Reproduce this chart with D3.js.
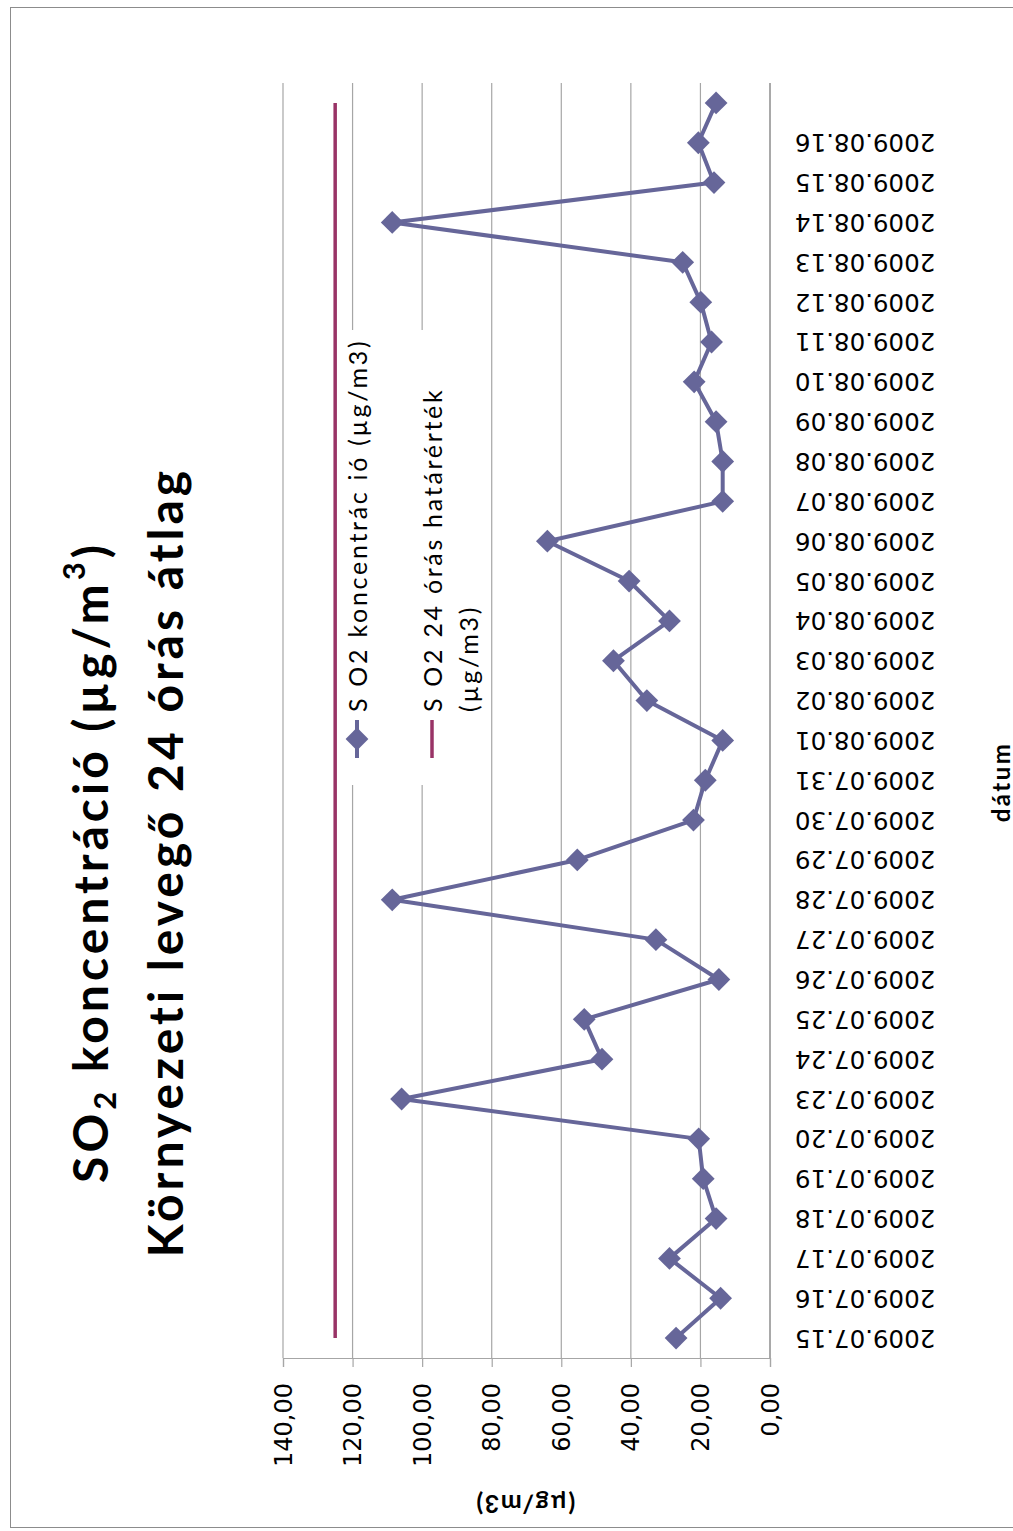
<!DOCTYPE html>
<html>
<head>
<meta charset="utf-8">
<script src="https://cdn.jsdelivr.net/npm/d3@7"></script>
<style>
  html, body { margin: 0; padding: 0; background: #fff; }
  svg { display: block; }
</style>
</head>
<body>
<svg id="chart" width="1013" height="1531"></svg>
<script>
// Daily dates of the measurement series (the last sample has no date label)
const dates = [
  "2009.07.15","2009.07.16","2009.07.17","2009.07.18","2009.07.19","2009.07.20",
  "2009.07.23","2009.07.24","2009.07.25","2009.07.26","2009.07.27","2009.07.28",
  "2009.07.29","2009.07.30","2009.07.31","2009.08.01","2009.08.02","2009.08.03",
  "2009.08.04","2009.08.05","2009.08.06","2009.08.07","2009.08.08","2009.08.09",
  "2009.08.10","2009.08.11","2009.08.12","2009.08.13","2009.08.14","2009.08.15",
  "2009.08.16",""
];
// SO2 concentration, 24 h mean (µg/m3)
const so2 = [
  27.0, 14.2, 28.9, 15.5, 19.2, 20.5,
  105.9, 48.3, 53.4, 14.7, 32.8, 108.6,
  55.4, 22.0, 18.6, 13.6, 35.4, 45.0,
  28.9, 40.5, 64.0, 13.6, 13.6, 15.5,
  21.8, 16.8, 19.9, 25.1, 108.6, 16.1,
  20.6, 15.5
];
// 24 h limit value (µg/m3)
const limitValue = 125;
// Value axis ticks
const valueTicks = [0, 20, 40, 60, 80, 100, 120, 140];

const seriesColor = "#666699";
const limitColor = "#993366";

const svg = d3.select("#chart");

// Chart area border
svg.append("rect")
  .attr("x", 10.5).attr("y", 7.5)
  .attr("width", 1020).attr("height", 1520)
  .attr("fill", "#fff").attr("stroke", "#8c8c8c").attr("stroke-width", 1);

// The chart is laid out turned a quarter turn: values run right-to-left, dates bottom-to-top
const plot = { left: 283, right: 770, top: 83, bottom: 1358 };

const x = d3.scaleLinear().domain([0, 140]).range([plot.right, plot.left]);
const step = (plot.bottom - plot.top) / dates.length;
const y = d3.scalePoint()
  .domain(d3.range(dates.length))
  .range([plot.bottom - step / 2, plot.top + step / 2]);

const huFormat = d3.formatLocale({ decimal: ",", thousands: " ", grouping: [3], currency: ["", " Ft"] }).format(".2f");

// Gridlines
svg.append("g")
  .selectAll("line")
  .data(valueTicks.filter(v => v !== 0))
  .join("line")
  .attr("x1", d => x(d)).attr("x2", d => x(d))
  .attr("y1", plot.top).attr("y2", plot.bottom)
  .attr("stroke", "#a6a6a6").attr("stroke-width", 1.2);

// Value axis (drawn along the bottom edge of the plot)
const xAxis = svg.append("g")
  .attr("transform", `translate(0,${plot.bottom})`)
  .call(d3.axisBottom(x).tickValues(valueTicks).tickSize(9).tickFormat(huFormat));
xAxis.select(".domain").attr("stroke", "#a6a6a6").attr("stroke-width", 1.2);
xAxis.selectAll(".tick line").attr("stroke", "#a6a6a6").attr("stroke-width", 1.2);
xAxis.selectAll(".tick text")
  .attr("transform", "translate(0,25) rotate(-90)")
  .attr("x", 0).attr("y", 0).attr("dy", null)
  .attr("text-anchor", "end")
  .attr("dominant-baseline", "central")
  .attr("font-family", "DejaVu Sans")
  .attr("font-size", 24)
  .attr("fill", "#000");

// Category axis line
svg.append("line")
  .attr("x1", plot.right).attr("x2", plot.right)
  .attr("y1", plot.top).attr("y2", plot.bottom)
  .attr("stroke", "#8c8c8c").attr("stroke-width", 1.5);

// Date labels
svg.append("g")
  .selectAll("text")
  .data(dates)
  .join("text")
  .attr("transform", (d, i) => `translate(${plot.right + 25},${y(i)}) rotate(180)`)
  .attr("text-anchor", "end")
  .attr("dominant-baseline", "central")
  .attr("font-family", "DejaVu Sans")
  .attr("font-size", 24.5)
  .attr("fill", "#000")
  .text(d => d);

// Limit line
const line = d3.line().x(d => x(d.v)).y(d => y(d.i));
svg.append("path")
  .datum(dates.map((d, i) => ({ i, v: limitValue })))
  .attr("d", line)
  .attr("fill", "none")
  .attr("stroke", limitColor)
  .attr("stroke-width", 3.5);

// SO2 series
svg.append("path")
  .datum(so2.map((v, i) => ({ i, v })))
  .attr("d", line)
  .attr("fill", "none")
  .attr("stroke", seriesColor)
  .attr("stroke-width", 4)
  .attr("stroke-linejoin", "round");

const diamond = d3.symbol().type(d3.symbolSquare).size(260);
svg.append("g")
  .selectAll("path")
  .data(so2)
  .join("path")
  .attr("transform", (d, i) => `translate(${x(d)},${y(i)}) rotate(45)`)
  .attr("d", diamond)
  .attr("fill", seriesColor);

// Legend
const legend = svg.append("g");
legend.append("rect")
  .attr("x", 338).attr("y", 330).attr("width", 148).attr("height", 455)
  .attr("fill", "#fff");
legend.append("line")
  .attr("x1", 357).attr("x2", 357).attr("y1", 758).attr("y2", 720)
  .attr("stroke", seriesColor).attr("stroke-width", 4);
legend.append("path")
  .attr("transform", "translate(357,739) rotate(45)")
  .attr("d", diamond)
  .attr("fill", seriesColor);
legend.append("line")
  .attr("x1", 432).attr("x2", 432).attr("y1", 758).attr("y2", 720)
  .attr("stroke", limitColor).attr("stroke-width", 3.5);

const legendText = [
  { x: 357, t: "S O2 koncentrác ió (µg/m3)" },
  { x: 432, t: "S O2 24 órás határérték" },
  { x: 468, t: "(µg/m3)" }
];
legend.selectAll("text.lg")
  .data(legendText)
  .join("text")
  .attr("class", "lg")
  .attr("transform", d => `translate(${d.x},712) rotate(-90)`)
  .attr("text-anchor", "start")
  .attr("dominant-baseline", "central")
  .attr("font-family", "Lato")
  .attr("font-size", 25)
  .attr("letter-spacing", 2.7)
  .attr("fill", "#000")
  .text(d => d.t);

// Title
const title = svg.append("g")
  .attr("font-family", "Lato").attr("font-weight", "bold")
  .attr("letter-spacing", 4).attr("fill", "#000");
const t1 = title.append("text")
  .attr("transform", "translate(108,862) rotate(-90)")
  .attr("text-anchor", "middle")
  .attr("font-size", 48);
t1.append("tspan").text("SO");
t1.append("tspan").attr("font-size", 31).attr("baseline-shift", "-8").text("2");
t1.append("tspan").text(" koncentráció (µg/m");
t1.append("tspan").attr("font-size", 31).attr("baseline-shift", "23").text("3");
t1.append("tspan").text(")");

title.append("text")
  .attr("transform", "translate(183,862) rotate(-90)")
  .attr("text-anchor", "middle")
  .attr("font-size", 48)
  .text("Környezeti levegő 24 órás átlag");

// Axis titles
svg.append("text")
  .attr("transform", "translate(525,1505) rotate(180)")
  .attr("text-anchor", "middle")
  .attr("dominant-baseline", "central")
  .attr("font-family", "Lato").attr("font-weight", "bold")
  .attr("font-size", 25)
  .attr("letter-spacing", 1.5)
  .text("(µg/m3)");

svg.append("text")
  .attr("transform", "translate(1000,782) rotate(-90)")
  .attr("text-anchor", "middle")
  .attr("dominant-baseline", "central")
  .attr("font-family", "Lato").attr("font-weight", "bold")
  .attr("font-size", 24)
  .attr("letter-spacing", 2.5)
  .text("dátum");
</script>
</body>
</html>
